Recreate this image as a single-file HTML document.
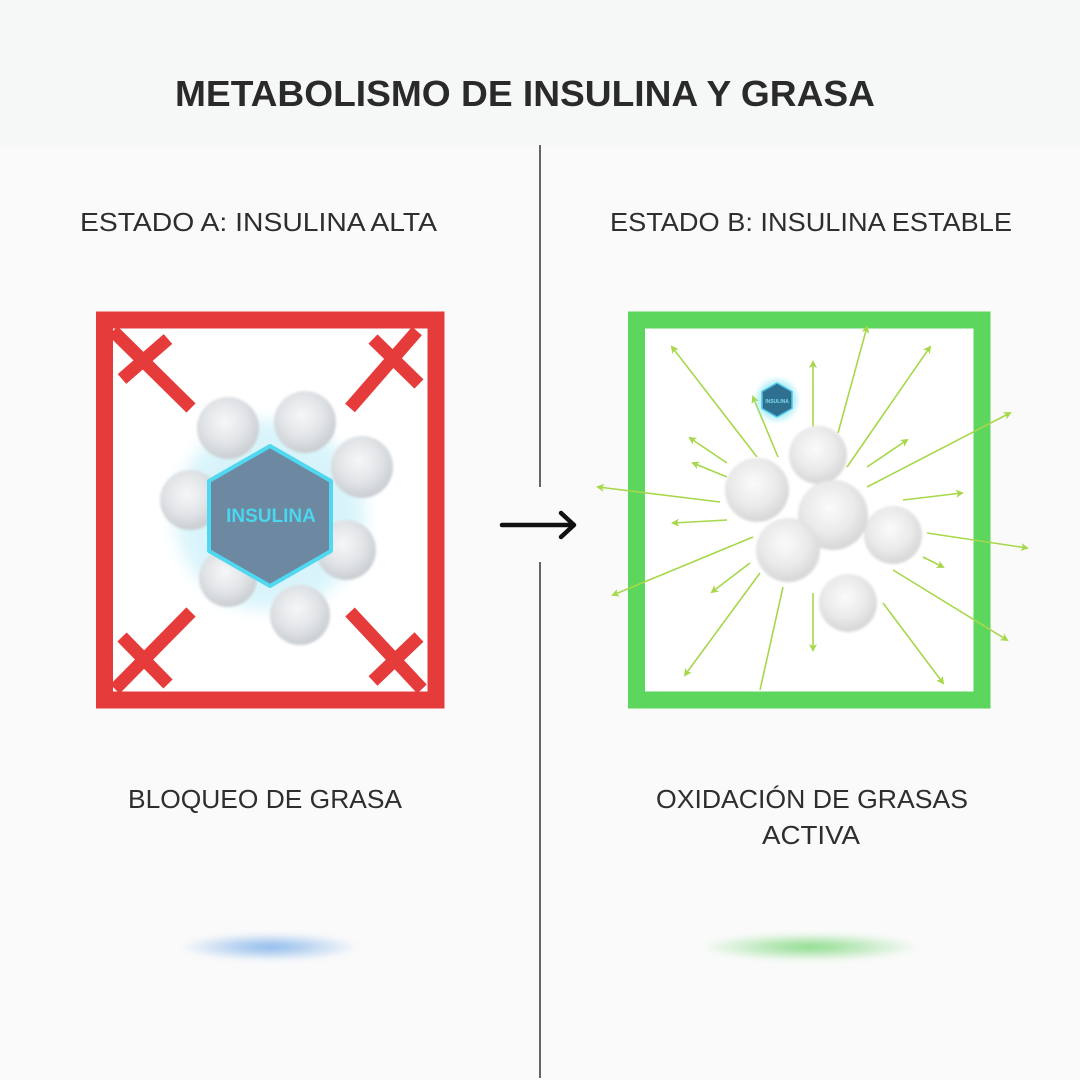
<!DOCTYPE html>
<html><head><meta charset="utf-8"><style>
html,body{margin:0;padding:0;background:#f9fafa;}
svg{display:block;}
text{font-family:"Liberation Sans",sans-serif;}
</style></head><body>
<svg width="1080" height="1080" viewBox="0 0 1080 1080" xmlns="http://www.w3.org/2000/svg">
<defs>
<radialGradient id="sph" cx="0.45" cy="0.4" r="0.6">
<stop offset="0" stop-color="#f6f7f8"/><stop offset="0.6" stop-color="#e0e3e6"/><stop offset="1" stop-color="#c9cdd1"/>
</radialGradient>
<radialGradient id="sph2" cx="0.45" cy="0.4" r="0.6">
<stop offset="0" stop-color="#fbfbfb"/><stop offset="0.6" stop-color="#e8e8e8"/><stop offset="1" stop-color="#d2d2d2"/>
</radialGradient>
<filter id="blur8"><feGaussianBlur stdDeviation="8"/></filter>
<filter id="blur3"><feGaussianBlur stdDeviation="3"/></filter>
<filter id="blur1"><feGaussianBlur stdDeviation="1.2"/></filter>
<radialGradient id="glowB"><stop offset="0" stop-color="#6fa8e8" stop-opacity="0.8"/><stop offset="1" stop-color="#6fa8e8" stop-opacity="0"/></radialGradient>
<radialGradient id="glowG"><stop offset="0" stop-color="#6fd46f" stop-opacity="0.8"/><stop offset="1" stop-color="#6fd46f" stop-opacity="0"/></radialGradient>
<marker id="ah" markerWidth="8" markerHeight="8" refX="6" refY="4" orient="auto" markerUnits="userSpaceOnUse">
<path d="M0,0 L8,4 L0,8 L2,4 Z" fill="#a6d84a"/></marker>
</defs>
<rect x="0" y="0" width="1080" height="145" fill="#f6f8f8"/>
<rect x="0" y="145" width="1080" height="935" fill="#fafafa"/>
<text x="525" y="106" text-anchor="middle" font-size="36" font-weight="bold" fill="#2a2a2a" textLength="700" lengthAdjust="spacingAndGlyphs">METABOLISMO DE INSULINA Y GRASA</text>
<text x="80" y="231" font-size="26" fill="#2e2e2e" textLength="357" lengthAdjust="spacingAndGlyphs">ESTADO A: INSULINA ALTA</text>
<text x="610" y="231" font-size="26" fill="#2e2e2e" textLength="402" lengthAdjust="spacingAndGlyphs">ESTADO B: INSULINA ESTABLE</text>
<text x="128" y="808" font-size="26" fill="#2e2e2e" textLength="274" lengthAdjust="spacingAndGlyphs">BLOQUEO DE GRASA</text>
<text x="656" y="808" font-size="26" fill="#2e2e2e" textLength="312" lengthAdjust="spacingAndGlyphs">OXIDACIÓN DE GRASAS</text>
<text x="762" y="844" font-size="26" fill="#2e2e2e" textLength="98" lengthAdjust="spacingAndGlyphs">ACTIVA</text>
<line x1="540" y1="145" x2="540" y2="487" stroke="#333" stroke-width="1.5"/>
<line x1="540" y1="562" x2="540" y2="1078" stroke="#333" stroke-width="1.5"/>
<line x1="502" y1="525" x2="573" y2="525" stroke="#111" stroke-width="4.5" stroke-linecap="round"/>
<polyline points="561,513 574,525 561,537" fill="none" stroke="#111" stroke-width="4.5" stroke-linecap="round" stroke-linejoin="round"/>
<ellipse cx="270" cy="947" rx="90" ry="14" fill="url(#glowB)" filter="url(#blur3)"/>
<ellipse cx="810" cy="947" rx="110" ry="14" fill="url(#glowG)" filter="url(#blur3)"/>
<rect x="104.5" y="320" width="331.5" height="380" fill="#ffffff" stroke="#e63b3b" stroke-width="17"/>
<g stroke="#e63b3b" stroke-width="13" stroke-linecap="butt">
<line x1="113" y1="331" x2="191" y2="408"/><line x1="122" y1="379" x2="168" y2="339"/>
<line x1="417" y1="331" x2="350" y2="408"/><line x1="373" y1="339" x2="419" y2="384"/>
<line x1="191" y1="612" x2="115" y2="689"/><line x1="122" y1="637" x2="168" y2="684"/>
<line x1="350" y1="612" x2="422" y2="689"/><line x1="373" y1="681" x2="419" y2="637"/>
</g>
<circle cx="270" cy="515" r="95" fill="#bfeef8" opacity="0.6" filter="url(#blur8)"/>
<g filter="url(#blur1)">
<circle cx="228" cy="428" r="31" fill="url(#sph)"/>
<circle cx="305" cy="422" r="31" fill="url(#sph)"/>
<circle cx="362" cy="467" r="31" fill="url(#sph)"/>
<circle cx="190" cy="500" r="30" fill="url(#sph)"/>
<circle cx="346" cy="550" r="30" fill="url(#sph)"/>
<circle cx="228" cy="578" r="29" fill="url(#sph)"/>
<circle cx="300" cy="615" r="30" fill="url(#sph)"/>
</g>
<polygon points="270,446 331,481 331,551 270,586 209,551 209,481" fill="#6d88a1" stroke="#4fd8f0" stroke-width="4" stroke-linejoin="round"/>
<text x="271" y="522" text-anchor="middle" font-size="19" font-weight="bold" fill="#49d6ee">INSULINA</text>
<rect x="636.5" y="320" width="345.5" height="380" fill="#ffffff" stroke="#5cd65c" stroke-width="17"/>
<g stroke="#a6d84a" stroke-width="1.6" fill="none" marker-end="url(#ah)">
<line x1="757" y1="457" x2="672" y2="347"/>
<line x1="778" y1="457" x2="753" y2="397"/>
<line x1="813" y1="427" x2="813" y2="362"/>
<line x1="838" y1="433" x2="867" y2="327"/>
<line x1="847" y1="467" x2="930" y2="347"/>
<line x1="867" y1="467" x2="907" y2="440"/>
<line x1="867" y1="487" x2="1010" y2="413"/>
<line x1="903" y1="500" x2="962" y2="493"/>
<line x1="927" y1="533" x2="1027" y2="548"/>
<line x1="923" y1="557" x2="943" y2="567"/>
<line x1="893" y1="570" x2="1007" y2="640"/>
<line x1="883" y1="603" x2="943" y2="683"/>
<line x1="813" y1="593" x2="813" y2="650"/>
<line x1="760" y1="573" x2="685" y2="675"/>
<line x1="750" y1="563" x2="712" y2="592"/>
<line x1="753" y1="537" x2="613" y2="595"/>
<line x1="727" y1="520" x2="673" y2="523"/>
<line x1="720" y1="502" x2="598" y2="487"/>
<line x1="727" y1="477" x2="693" y2="463"/>
<line x1="727" y1="463" x2="690" y2="438"/>
</g>
<line x1="783" y1="587" x2="760" y2="690" stroke="#a6d84a" stroke-width="1.6"/>
<g opacity="0.9" filter="url(#blur1)">
<circle cx="757" cy="490" r="32" fill="url(#sph2)"/>
<circle cx="818" cy="455" r="29" fill="url(#sph2)"/>
<circle cx="893" cy="535" r="29" fill="url(#sph2)"/>
<circle cx="833" cy="515" r="35" fill="url(#sph2)"/>
<circle cx="788" cy="550" r="32" fill="url(#sph2)"/>
<circle cx="848" cy="603" r="29" fill="url(#sph2)"/>
</g>
<circle cx="777" cy="400" r="20" fill="#7fe3f5" opacity="0.6" filter="url(#blur3)"/>
<polygon points="777,383 792,391.5 792,408.5 777,417 762,408.5 762,391.5" fill="#2f6f90" stroke="#4cc8e6" stroke-width="1.5"/>
<text x="777" y="403" text-anchor="middle" font-size="5" font-weight="bold" fill="#7fd8ea">INSULINA</text>
</svg>
</body></html>
